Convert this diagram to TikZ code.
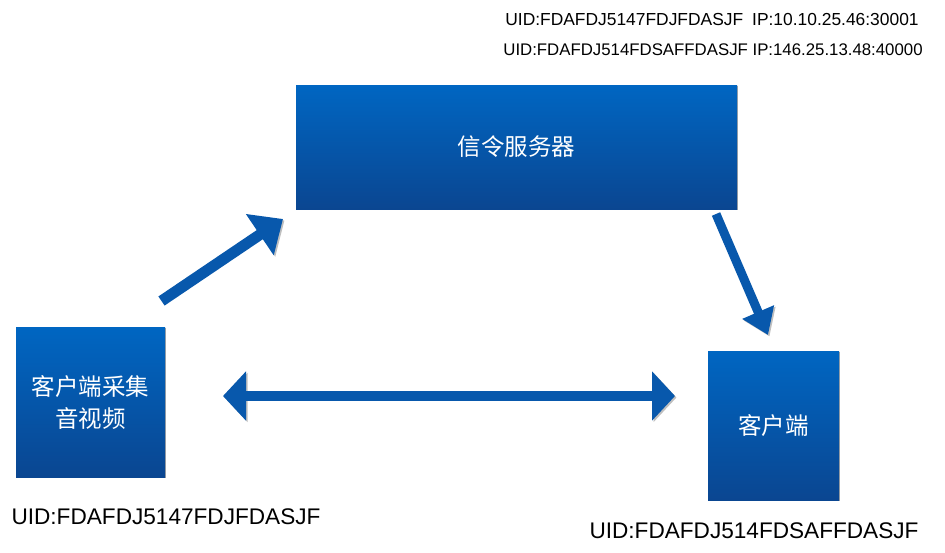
\documentclass[tikz,border=0pt]{standalone}
\usepackage{fontspec}
\setmainfont{Liberation Sans}
\newfontfamily\cjk{Noto Sans CJK SC}
\usetikzlibrary{arrows.meta,shadows}
\definecolor{boxtop}{RGB}{0,102,194}
\definecolor{boxbot}{RGB}{10,70,145}
\definecolor{arrowblue}{RGB}{8,88,172}
\tikzset{
  bluebox/.style={rectangle, inner sep=0pt, top color=boxtop, bottom color=boxbot,
    draw=none, text=white, align=center,
    font=\cjk\fontsize{23.5}{32}\selectfont,
    drop shadow={shadow xshift=1.2pt, shadow yshift=-1.2pt, opacity=0.35, fill=black}},
  blockarrow/.style={draw=arrowblue, line cap=butt,
    preaction={draw=black, opacity=0.25, transform canvas={xshift=1.5pt, yshift=-1.5pt}}},
  smalluid/.style={font=\fontsize{17}{20}\selectfont, inner sep=0pt},
  biguid/.style={font=\fontsize{22.6}{26}\selectfont, inner sep=0pt},
}
\begin{document}
\begin{tikzpicture}[x=1pt,y=-1pt]
\useasboundingbox[fill=white] (0,0) rectangle (945,552);
% boxes
\node[bluebox, minimum width=441pt, minimum height=124pt] (srv) at (516.5,147) {信令服务器};
\node[bluebox, minimum width=149pt, minimum height=150pt] (src) at (90.5,402) {客户端采集\\音视频};
\node[bluebox, minimum width=131pt, minimum height=149pt] (dst) at (773.5,425.5) {客户端};
% arrow end points
\coordinate (a1s) at (161.5,301);
\coordinate (a1e) at (283,219);
\coordinate (a2s) at (716,214);
\coordinate (a2e) at (768,335);
\coordinate (a3s) at (223,396);
\coordinate (a3e) at (675,396);
% arrows
\draw[blockarrow, line width=11pt, -{Triangle[length=28pt, width=48pt, fill=arrowblue]}] (a1s) -- (a1e);
\draw[blockarrow, line width=9pt, -{Triangle[length=25pt, width=33pt, fill=arrowblue]}] (a2s) -- (a2e);
\draw[blockarrow, line width=10.5pt, {Triangle[length=23pt, width=48pt, fill=arrowblue]}-{Triangle[length=23pt, width=48pt, fill=arrowblue]}] (a3s) -- (a3e);
% labels
\node[smalluid, font=\fontsize{17.4}{20}\selectfont] (t1) at (712,20) {UID:FDAFDJ5147FDJFDASJF\hspace{9pt}IP:10.10.25.46:30001};
\node[smalluid, font=\fontsize{16.8}{20}\selectfont] (t2) at (713,50) {UID:FDAFDJ514FDSAFFDASJF IP:146.25.13.48:40000};
\node[biguid] (b1) at (166,517) {UID:FDAFDJ5147FDJFDASJF};
\node[biguid] (b2) at (754,531) {UID:FDAFDJ514FDSAFFDASJF};
\end{tikzpicture}
\end{document}
